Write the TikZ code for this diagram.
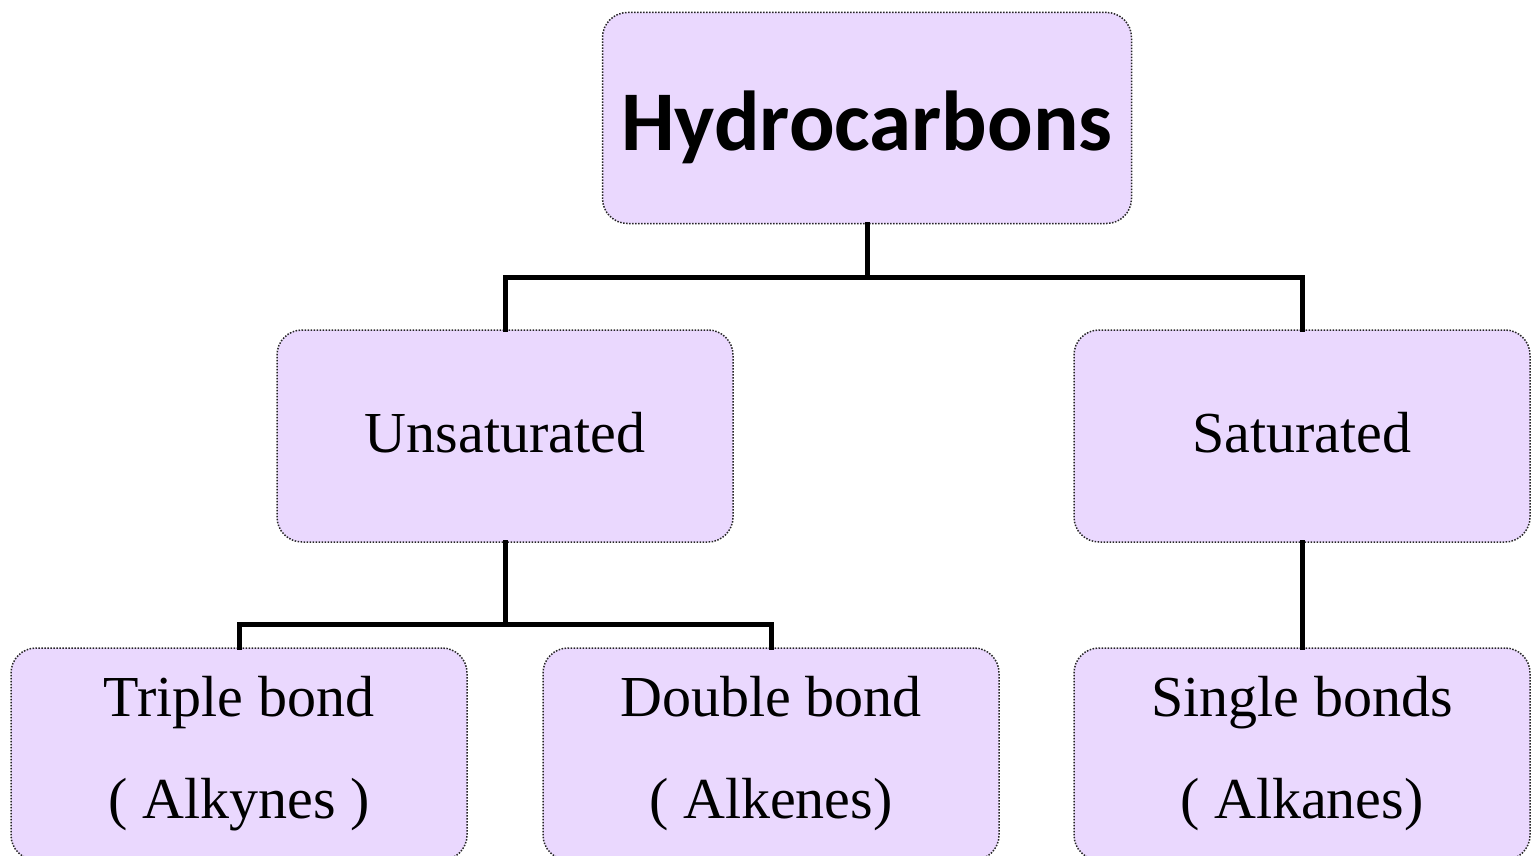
\documentclass[tikz,border=0pt]{standalone}
\usepackage{fontspec}
\setmainfont{Liberation Serif}
\newfontfamily\headfont{Carlito}
\definecolor{boxfill}{RGB}{234,216,254}
\tikzset{
  catbox/.style={draw=black!85,line width=1.5pt,dash pattern=on 1.5pt off 1.5pt,
    fill=boxfill,rounded corners=25pt,minimum width=456pt,minimum height=212pt,
    align=center,font=\fontsize{58}{102}\selectfont},
  oneline/.style={text height=40pt,text depth=8pt},
  link/.style={line width=5pt,line cap=rect}
}
\begin{document}
\begin{tikzpicture}[x=1pt,y=-1pt,line join=miter]
\useasboundingbox (0,0) rectangle (1531,856);
\clip (0,0) rectangle (1531,856);
\node[catbox,minimum width=529pt,minimum height=211pt,text height=70pt,text depth=6pt,
  font=\headfont\bfseries\fontsize{85}{100}\selectfont]
  (hydro) at (867,118) {Hydrocarbons};
\node[catbox,oneline] (unsat) at (505,436) {Unsaturated};
\node[catbox,oneline] (sat) at (1302,436) {Saturated};
\node[catbox] (triple) at (239,754) {Triple bond\\( Alkynes )};
\node[catbox] (double) at (771,754) {Double bond\\( Alkenes)};
\node[catbox] (single) at (1302,754) {Single bonds\\( Alkanes)};
%\draw (unsat) -- (sat);
\draw[link] (hydro.south) -- (hydro.south |- 0,277) -| (unsat.north);
\draw[link] (hydro.south |- 0,277) -| (sat.north);
\draw[link] (unsat.south) -- (unsat.south |- 0,624) -| (triple.north);
\draw[link] (unsat.south |- 0,624) -| (double.north);
\draw[link] (sat.south) -- (single.north);
\end{tikzpicture}
\end{document}
